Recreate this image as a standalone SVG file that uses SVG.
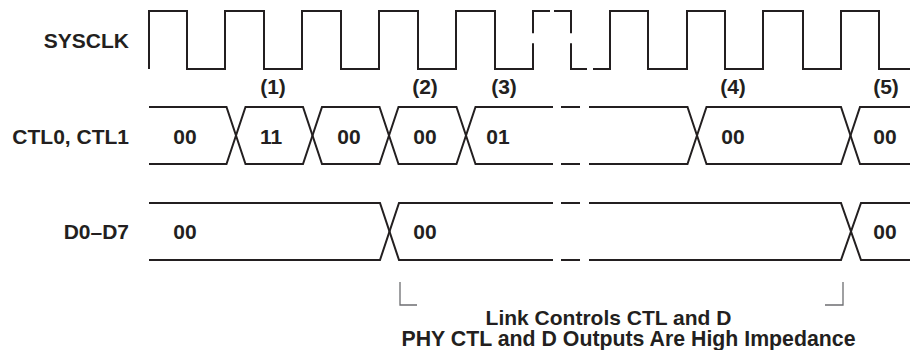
<svg xmlns="http://www.w3.org/2000/svg" width="910" height="350" viewBox="0 0 910 350">
<style>
.sig{fill:none;stroke:#231f20;stroke-width:2;stroke-linejoin:miter}
.brk{fill:none;stroke:#6d6e71;stroke-width:1.3}
text{font-family:"Liberation Sans",Arial,Helvetica,sans-serif;font-weight:bold;font-size:21px;fill:#231f20}
.lab{text-anchor:end}
.c{text-anchor:middle}
</style>
<rect width="910" height="350" fill="#fff"/>
<g id="signal-names">
<text class="lab" x="129" y="48">SYSCLK</text>
<text class="lab" x="129" y="144">CTL0, CTL1</text>
<text class="lab" x="129" y="239">D0–D7</text>
</g>
<g id="sysclk">
<path class="sig" d="M149,69 V11 H187 V69 H225 V11 H264 V69 H302 V11 H341 V69 H379 V11 H418 V69 H456 V11 H495 V69 H533 V43.3 M533,33.3 V11 H550 M554,11 H571 V33.3 M571,43.3 V69 H587 M593,69 H610 V11 H648 V69 H687 V11 H725 V69 H763 V11 H803 V69 H841 V11 H879 V69 H910"/>
</g>
<g id="ctl">
<path class="sig" d="M149,107 H226.5 L245.5,164 H303 L322,107 H379.5 L398.5,164 H456.5 L475.5,107 H533 M533,107 H553 M561,107 H580 M589,107 H610 H687.5 L706.5,164 H841 L860,107 H910"/>
<path class="sig" d="M149,164 H226.5 L245.5,107 H303 L322,164 H379.5 L398.5,107 H456.5 L475.5,164 H533 M533,164 H553 M561,164 H580 M589,164 H610 H687.5 L706.5,107 H841 L860,164 H910"/>
<text class="c" x="185" y="144">00</text>
<text class="c" x="271" y="144">11</text>
<text class="c" x="349" y="144">00</text>
<text class="c" x="425" y="144">00</text>
<text class="c" x="498" y="144">01</text>
<text class="c" x="733" y="144">00</text>
<text class="c" x="885" y="144">00</text>
</g>
<g id="d">
<path class="sig" d="M149,203 H380 L399,260 H533 M533,260 H553 M561,260 H580 M589,260 H610 H841 L861,203 H910"/>
<path class="sig" d="M149,260 H380 L399,203 H533 M533,203 H553 M561,203 H580 M589,203 H610 H841 L861,260 H910"/>
<text class="c" x="185" y="239">00</text>
<text class="c" x="425" y="239">00</text>
<text class="c" x="885" y="239">00</text>
</g>
<g id="markers">
<text class="c" x="273" y="94">(1)</text>
<text class="c" x="425" y="94">(2)</text>
<text class="c" x="504" y="94">(3)</text>
<text class="c" x="733" y="94">(4)</text>
<text class="c" x="886" y="94">(5)</text>
</g>
<g id="connectors">
<path class="brk" d="M400,282 V305 H417"/>
<path class="brk" d="M825,305 H843 V282"/>
</g>
<g id="note">
<text class="c" x="608.5" y="325">Link Controls CTL and D</text>
<text class="c" x="628.5" y="346" style="font-size:21.3px">PHY CTL and D Outputs Are High Impedance</text>
</g>
</svg>
